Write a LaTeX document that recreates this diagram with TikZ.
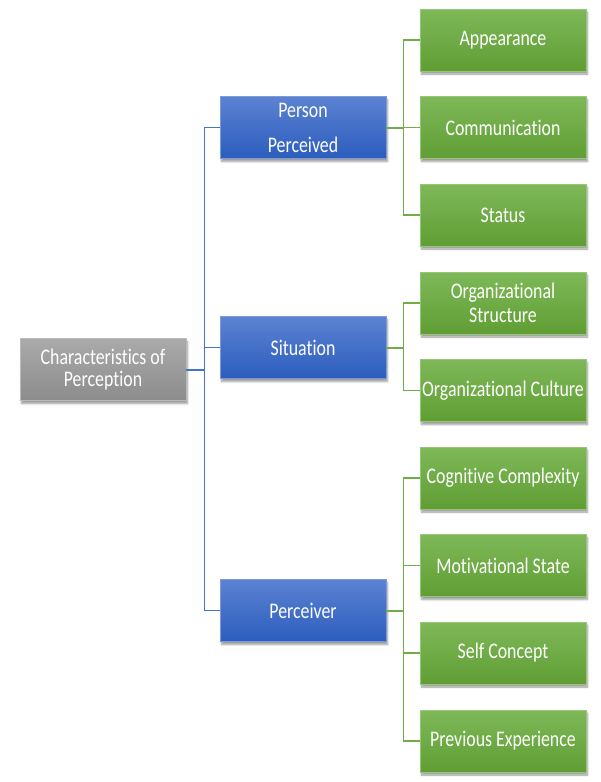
\documentclass[tikz,border=0pt]{standalone}
\usepackage{fontspec}
\setmainfont[FakeStretch=0.8,Ligatures=NoCommon]{Carlito}
\usetikzlibrary{shadows.blur}

\begin{document}
\begin{tikzpicture}[x=1pt,y=-1pt,
  outline/.style 2 args={top color=#1,bottom color=#2,draw=#1!80!white,line width=0.6pt,
    minimum width=166pt,minimum height=62pt,inner sep=0pt,align=center,text=white,
    font=\fontsize{22.3}{24}\selectfont,
    blur shadow={shadow xshift=1.5pt,shadow yshift=-3pt,shadow blur steps=6,shadow opacity=40}},
  bluelink/.style={draw=linkblue,line width=1.1pt},
  greenlink/.style={draw=linkgreen,line width=1.1pt}]
  \definecolor{graytop}{RGB}{170,170,170};
  \definecolor{graybot}{RGB}{140,140,140};
  \definecolor{bluetop}{RGB}{92,130,210};
  \definecolor{bluebot}{RGB}{44,93,190};
  \definecolor{greentop}{RGB}{126,184,88};
  \definecolor{greenbot}{RGB}{96,158,52};
  \definecolor{linkblue}{RGB}{68,114,210};
  \definecolor{linkgreen}{RGB}{112,173,71};
  \useasboundingbox (0,0) rectangle (600,782);
	\node [outline={graytop}{graybot}] (root) at (103,369.5) {Characteristics of\\[-2pt]Perception};
	\node [outline={bluetop}{bluebot}] (person) at (303,127.5) {Person\\[11pt]Perceived};
	\node [outline={bluetop}{bluebot}] (situation) at (303,347.5) {Situation};
	\node [outline={bluetop}{bluebot}] (perceiver) at (303,610.5) {Perceiver};
	\node [outline={greentop}{greenbot}] (appearance) at (503,40) {Appearance};
	\node [outline={greentop}{greenbot}] (communication) at (503,127.5) {Communication};
	\node [outline={greentop}{greenbot}] (status) at (503,215) {Status};
	\node [outline={greentop}{greenbot}] (structure) at (503,303) {Organizational\\Structure};
	\node [outline={greentop}{greenbot}] (culture) at (503,390.5) {Organizational Culture};
	\node [outline={greentop}{greenbot}] (cognitive) at (503,478) {Cognitive Complexity};
	\node [outline={greentop}{greenbot}] (motivation) at (503,565.5) {Motivational State};
	\node [outline={greentop}{greenbot}] (selfconcept) at (503,653) {Self Concept};
	\node [outline={greentop}{greenbot}] (experience) at (503,741) {Previous Experience};
	\draw [bluelink,line width=2pt] (root.east) -- ++(18,0) coordinate (trunk);
	\foreach \b in {person,situation,perceiver}
	  \draw [bluelink] (trunk) |- (\b.west);
	\foreach \b/\g in {person/appearance,person/communication,person/status,
	                   situation/structure,situation/culture,
	                   perceiver/cognitive,perceiver/motivation,perceiver/selfconcept,perceiver/experience}
	  \draw [greenlink] (\b.east) -- ++(17,0) |- (\g.west);
	\foreach \b in {person,situation,perceiver}
	  \draw [greenlink,line width=2pt] (\b.east) -- ++(17,0);
\end{tikzpicture}
\end{document}
